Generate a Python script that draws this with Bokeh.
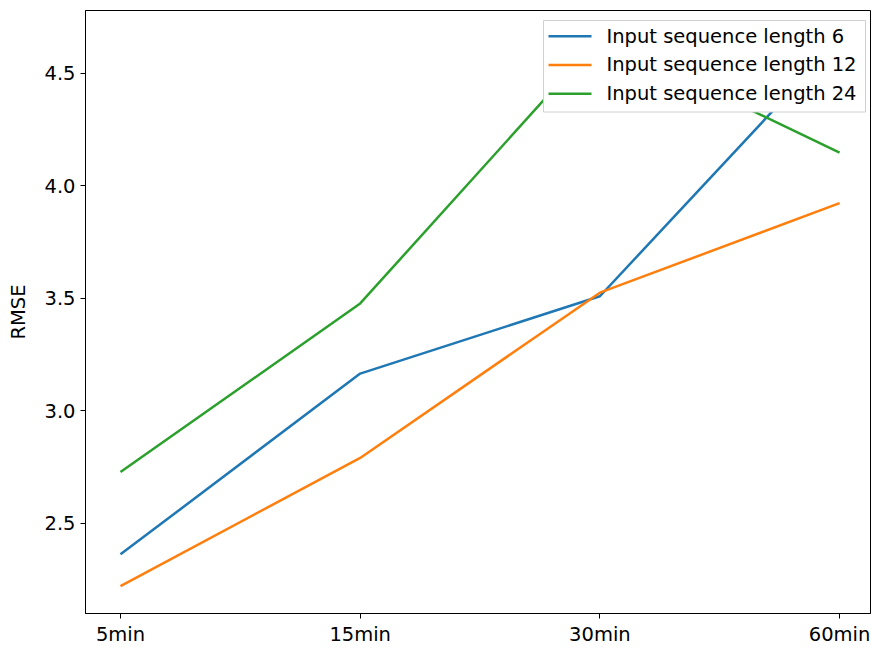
from bokeh.plotting import figure
from bokeh.models import Range1d, FixedTicker
from bokeh.core.properties import value
from bokeh.embed import file_html
from bokeh.resources import INLINE

# Prediction horizons and RMSE for each input sequence length
horizons = ["5min", "15min", "30min", "60min"]
rmse_len6 = [2.361, 3.165, 3.509, 4.652]
rmse_len12 = [2.220, 2.790, 3.525, 3.923]
rmse_len24 = [2.727, 3.477, 4.658, 4.148]
series_labels = ["Input sequence length 6", "Input sequence length 12", "Input sequence length 24"]
y_ticks = [2.5, 3.0, 3.5, 4.0, 4.5]

colors = ["#1f77b4", "#ff7f0e", "#2ca02c"]
FONT = "DejaVu Sans"
FONT_SIZE = "19.5px"

# frame geometry (pixels) and axis limits
FRAME_L, FRAME_T, FRAME_W, FRAME_H = 85, 10, 785, 603
X0, X1 = -0.146, 3.129
Y0, Y1 = 2.098, 4.780

xs = list(range(len(horizons)))

p = figure(
    frame_width=FRAME_W, frame_height=FRAME_H,
    min_border_left=FRAME_L, min_border_right=1, min_border_top=FRAME_T, min_border_bottom=35,
    x_range=Range1d(X0, X1), y_range=Range1d(Y0, Y1),
    output_backend="svg", toolbar_location=None,
    background_fill_color="white", border_fill_color="white",
)
p.outline_line_color = "black"
p.outline_line_alpha = 1.0
p.outline_line_width = 1
p.xgrid.visible = False
p.ygrid.visible = False

for vals, c in zip([rmse_len6, rmse_len12, rmse_len24], colors):
    p.line(xs, vals, line_color=c, line_width=2.5)

# axes styled like a classic matplotlib plot
p.xaxis.ticker = FixedTicker(ticks=xs)
p.xaxis.major_label_overrides = {i: h for i, h in enumerate(horizons)}
p.yaxis.ticker = FixedTicker(ticks=y_ticks)
p.yaxis.major_label_overrides = {t: f"{t:.1f}" for t in y_ticks}
p.yaxis.axis_label = "RMSE"
for ax in (p.xaxis, p.yaxis):
    ax.axis_line_color = "black"
    ax.major_tick_line_color = "black"
    ax.major_tick_out = 5
    ax.major_tick_in = 0
    ax.minor_tick_line_color = None
    ax.major_label_text_font = FONT
    ax.major_label_text_font_size = FONT_SIZE
    ax.major_label_text_color = "black"
    ax.axis_label_text_font = FONT
    ax.axis_label_text_font_size = FONT_SIZE
    ax.axis_label_text_font_style = "normal"
    ax.axis_label_text_color = "black"
p.xaxis.major_label_standoff = 4
p.yaxis.major_label_standoff = 5
p.yaxis.axis_label_standoff = 11


# legend box drawn as glyphs on top of the lines (pixel layout -> data coords)
def to_x(px):
    return X0 + (px - FRAME_L) * (X1 - X0) / FRAME_W


def to_y(py):
    return Y1 - (py - FRAME_T) * (Y1 - Y0) / FRAME_H


BOX_L, BOX_R, BOX_T, BOX_B = 543, 865, 20, 111.5
ROW_Y = [35.7, 64.4, 93.3]
SWATCH_L, SWATCH_R, TEXT_X = 548, 591, 606

p.quad(left=[to_x(BOX_L)], right=[to_x(BOX_R)], top=[to_y(BOX_T)], bottom=[to_y(BOX_B)],
       fill_color="white", fill_alpha=1.0, line_color="#d0d0d0", line_width=1)
p.segment(x0=[to_x(SWATCH_L)] * 3, x1=[to_x(SWATCH_R)] * 3,
          y0=[to_y(r) for r in ROW_Y], y1=[to_y(r) for r in ROW_Y],
          line_color=colors, line_width=2.5)
p.text(x=[to_x(TEXT_X)] * 3, y=[to_y(r) for r in ROW_Y], text=series_labels,
       text_font=value(FONT), text_font_size=FONT_SIZE, text_color="black",
       text_baseline="middle", text_align="left")

open("out.html", "w").write(file_html(p, INLINE))
